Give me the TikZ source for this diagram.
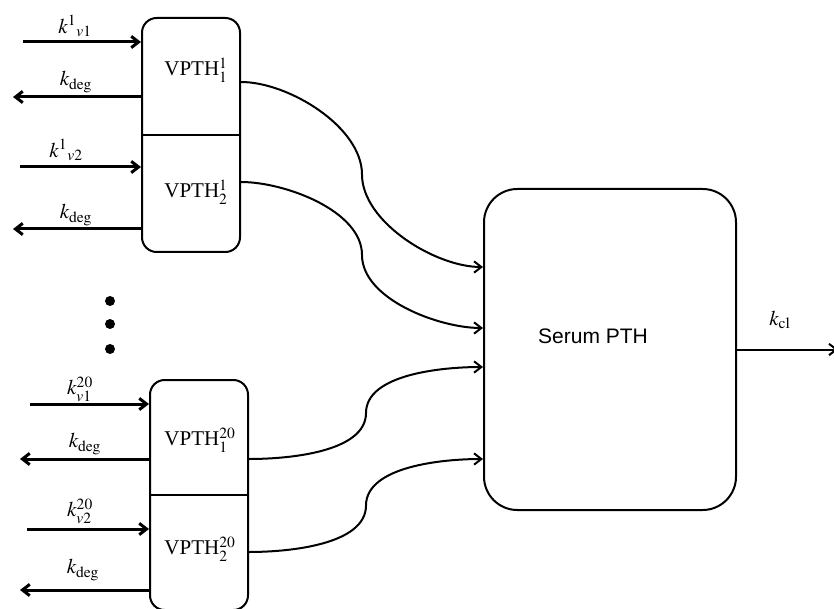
\documentclass[tikz,border=0pt]{standalone}
\usepackage{mathptmx}
\usepackage{fontspec}
\setmainfont{Liberation Serif}
\setsansfont{Liberation Sans}
\usetikzlibrary{calc, arrows.meta, positioning}

\tikzset{
  vbox/.style={draw, line width=1.5pt, rounded corners=11pt, minimum width=73.5pt, inner sep=0pt},
  serumbox/.style={draw, line width=1.5pt, rounded corners=25pt, minimum width=189pt, minimum height=240.75pt, inner sep=0pt},
  rate/.style={line width=2.25pt},
  flow/.style={line width=1.5pt, looseness=0.8},
}

\begin{document}
\begin{tikzpicture}[x=0.75pt, y=0.75pt, >={Straight Barb[length=5.5pt, width=8.5pt]},
    font=\fontsize{15.75}{18}\selectfont]

    \useasboundingbox (0,0) rectangle (834,-609);

    % ==========================================
    % --- Compartments ---
    % ==========================================
    \node[vbox, minimum height=175.5pt] (b1) at (191,-135) {};
    \node[vbox, minimum height=172.5pt] (b20) at (199,-495) {};
    \node[serumbox] (serum) at (610,-349.5) {};

    % Dividers between the two halves
    \draw[line width=1.5pt] (b1.west) -- (b1.east);
    \draw[line width=1.5pt] (b20.west) -- (b20.east);

    % Compartment texts
    \node (t11) at (196,-70) {VPTH$^{1}_{1}$};
    \node (t12) at (196,-192) {VPTH$^{1}_{2}$};
    \node (t21) at (200,-440) {VPTH$^{20}_{1}$};
    \node (t22) at (200,-549) {VPTH$^{20}_{2}$};
    \node[font=\fontsize{15.75}{18}\selectfont\sffamily] (stext) at (593,-336) {Serum PTH};

    % ==========================================
    % --- Production and degradation, vertebra 1 ---
    % ==========================================
    \coordinate (in11) at (23,-42);
    \draw[rate, ->] (in11) -- (b1.west |- in11);
    \node (kin11) at (75,-26) {$k^{1}{}_{v1}$};

    \coordinate (dg11) at (13,-97);
    \draw[rate, ->] (b1.west |- dg11) -- (dg11);
    \node (kd11) at (76,-82) {$k_{\mathrm{deg}}$};

    \coordinate (in12) at (20,-167);
    \draw[rate, ->] (in12) -- (b1.west |- in12);
    \node (kin12) at (66,-150) {$k^{1}{}_{v2}$};

    \coordinate (dg12) at (13,-229);
    \draw[rate, ->] (b1.west |- dg12) -- (dg12);
    \node (kd12) at (76,-215) {$k_{\mathrm{deg}}$};

    % ==========================================
    % --- Production and degradation, vertebra 20 ---
    % ==========================================
    \coordinate (in21) at (30,-404);
    \draw[rate, ->] (in21) -- (b20.west |- in21);
    \node (kin21) at (80,-389) {$k^{20}_{v1}$};

    \coordinate (dg21) at (20,-459);
    \draw[rate, ->] (b20.west |- dg21) -- (dg21);
    \node (kd21) at (85,-444) {$k_{\mathrm{deg}}$};

    \coordinate (in22) at (27,-529);
    \draw[rate, ->] (in22) -- (b20.west |- in22);
    \node (kin22) at (80,-511) {$k^{20}_{v2}$};

    \coordinate (dg22) at (20,-590);
    \draw[rate, ->] (b20.west |- dg22) -- (dg22);
    \node (kd22) at (83,-570) {$k_{\mathrm{deg}}$};

    % Vertebrae in between
    \foreach \y in {301, 324, 349}
        \fill (110,-\y) circle (3.75pt);

    % ==========================================
    % --- Transfer to serum ---
    % ==========================================
    \coordinate (o11) at (b1.east |- 0,-82);
    \coordinate (e11) at (serum.west |- 0,-267);
    \draw[flow, ->] (o11) to[out=0, in=90] ($(o11)!0.5!(e11)$) to[out=-90, in=180] (e11);

    \coordinate (o12) at (b1.east |- 0,-182);
    \coordinate (e12) at (serum.west |- 0,-328);
    \draw[flow, ->] (o12) to[out=0, in=90] ($(o12)!0.5!(e12)$) to[out=-90, in=180] (e12);

    \coordinate (o21) at (b20.east |- 0,-459);
    \coordinate (e21) at (serum.west |- 0,-367);
    \draw[flow, ->] (o21) to[out=0, in=-90] ($(o21)!0.5!(e21)$) to[out=90, in=180] (e21);

    \coordinate (o22) at (b20.east |- 0,-552);
    \coordinate (e22) at (serum.west |- 0,-459);
    \draw[flow, ->] (o22) to[out=0, in=-90] ($(o22)!0.5!(e22)$) to[out=90, in=180] (e22);

    % Clearance
    \coordinate (clr) at (838,-349.5);
    \draw[flow, ->] (serum.east) -- (clr);
    \node (kcl) at (780,-320) {$k_{\mathrm{cl}}$};

\end{tikzpicture}
\end{document}
